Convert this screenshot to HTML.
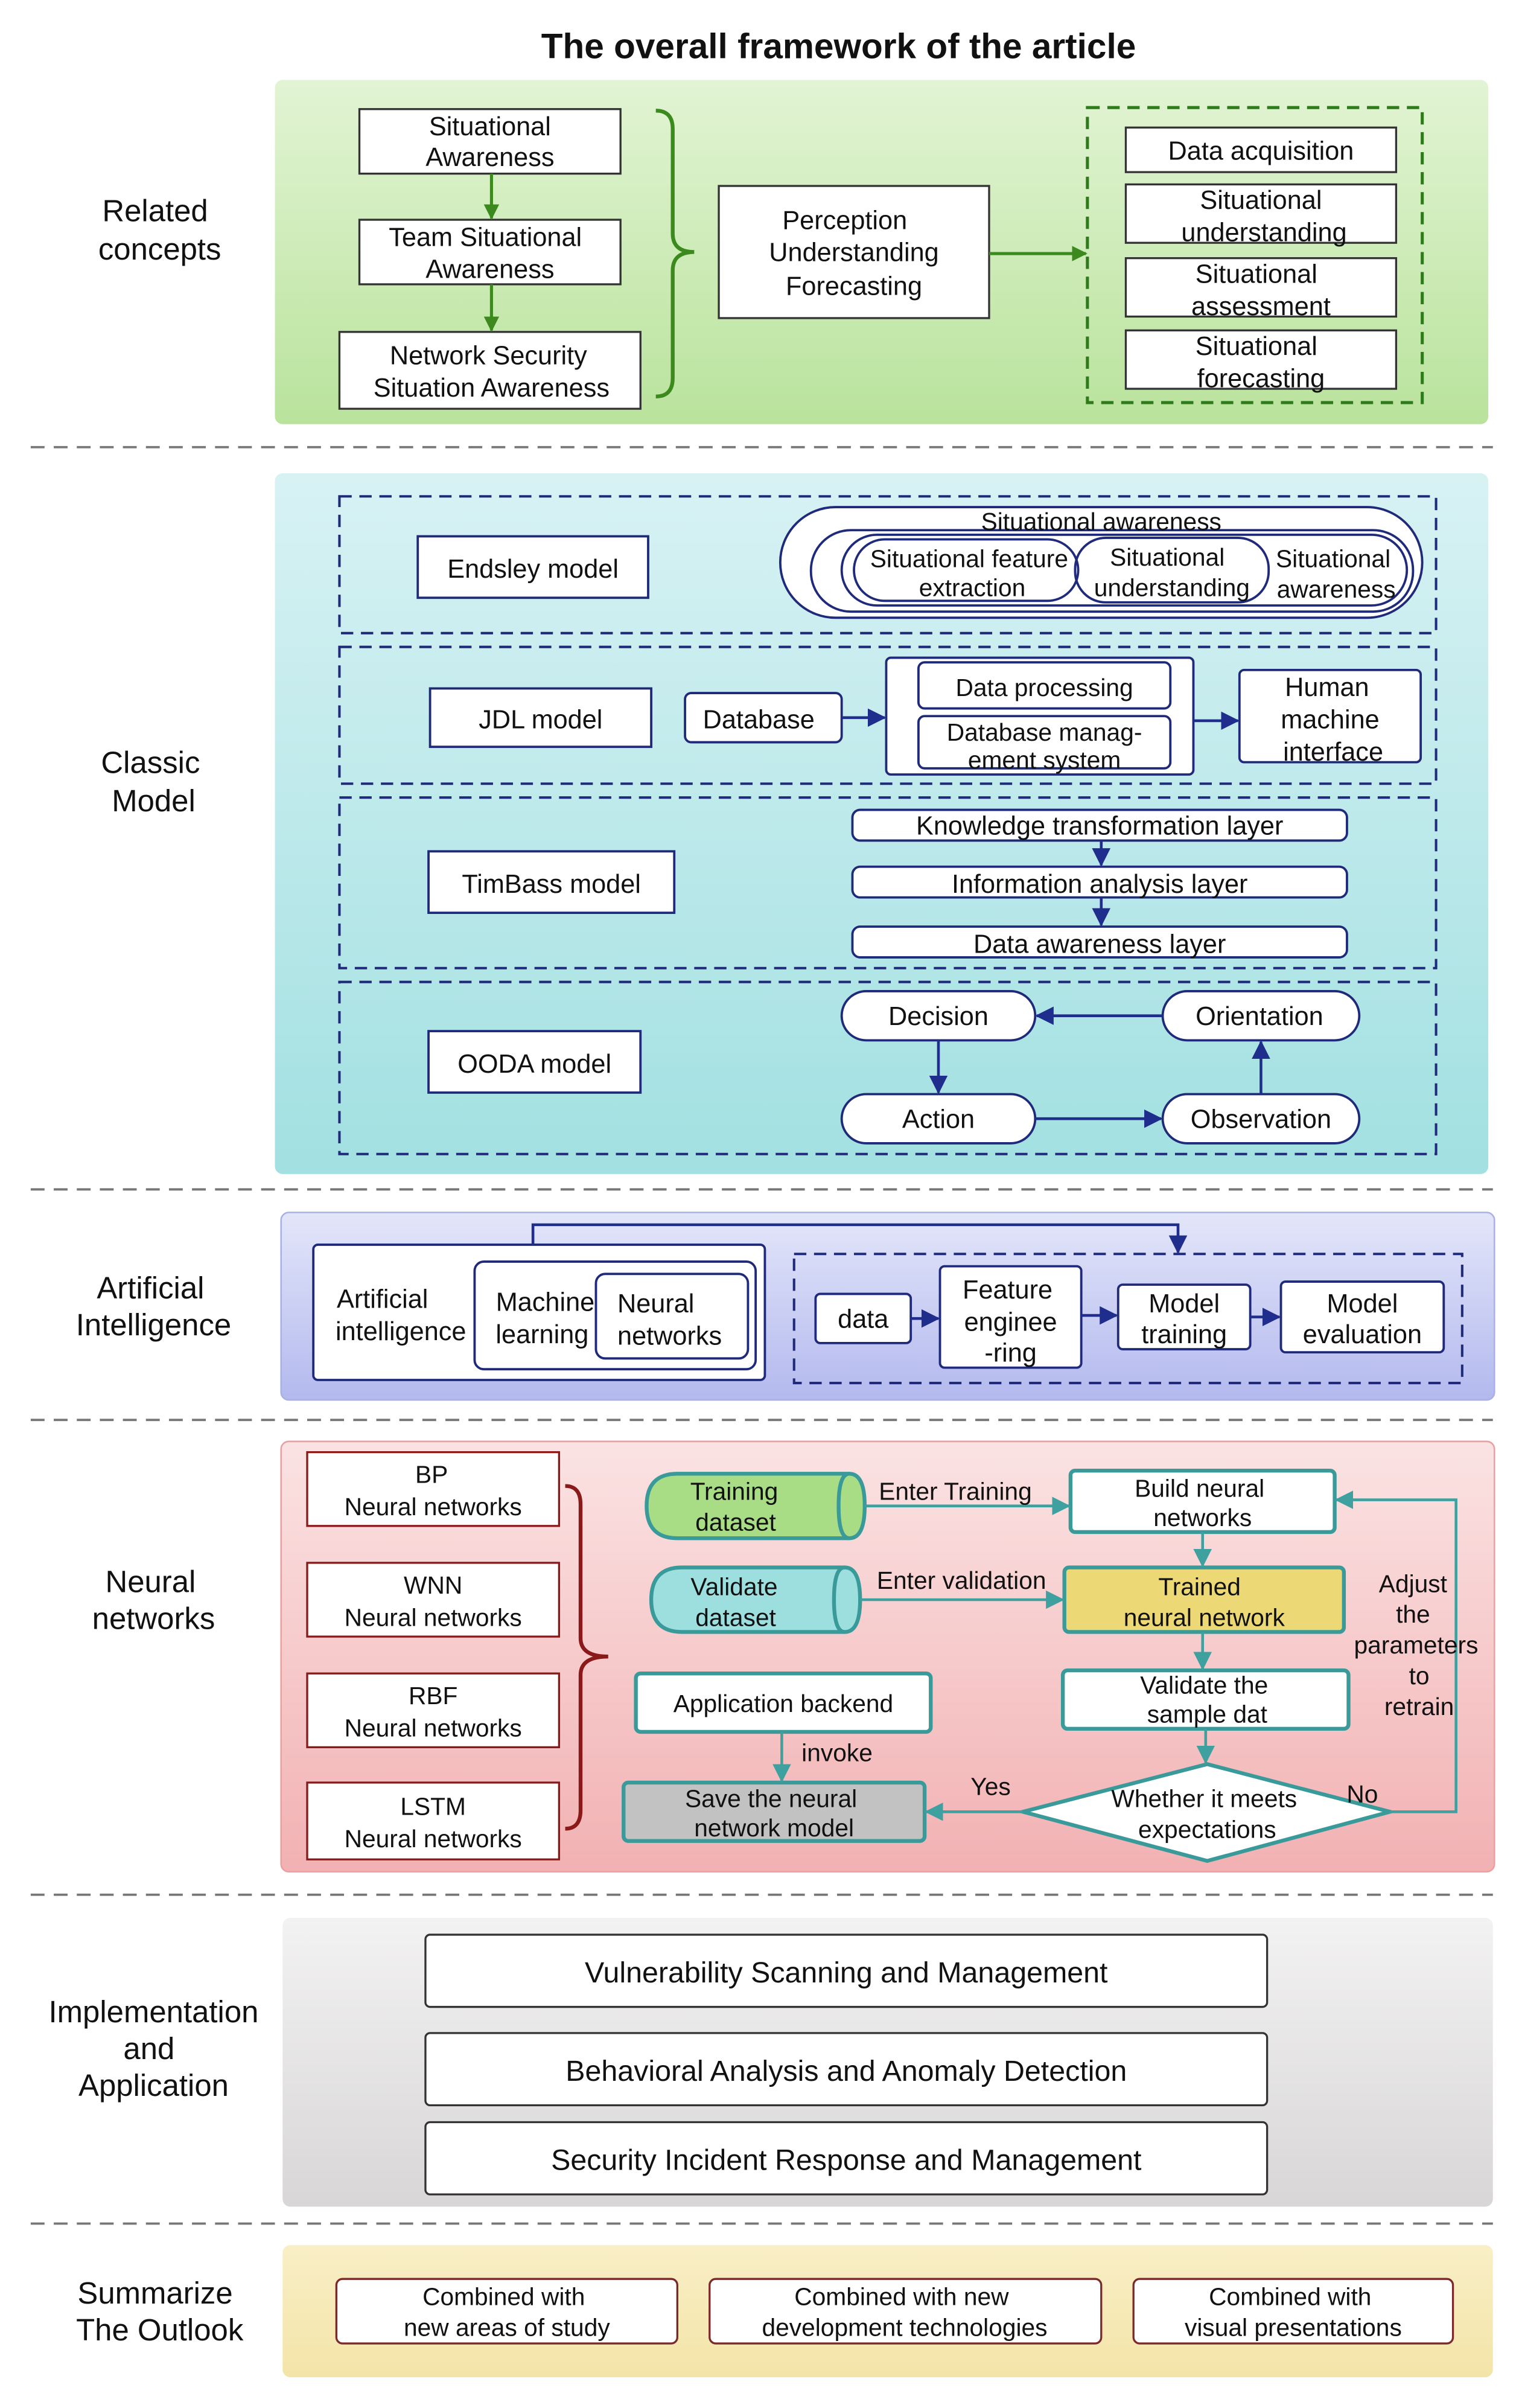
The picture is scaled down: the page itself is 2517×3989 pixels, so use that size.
<!DOCTYPE html>
<html><head><meta charset="utf-8"><style>
html,body{margin:0;padding:0;background:#fff}
svg{display:block}
text{font-family:"Liberation Sans",sans-serif;fill:#111}
</style></head><body>
<svg width="2517" height="3989" viewBox="0 0 989 1567" preserveAspectRatio="none" xmlns="http://www.w3.org/2000/svg">
<defs>
<linearGradient id="gG" x1="0" y1="0" x2="0" y2="1"><stop offset="0" stop-color="#e2f4d4"/><stop offset="1" stop-color="#b9e39c"/></linearGradient>
<linearGradient id="gC" x1="0" y1="0" x2="0" y2="1"><stop offset="0" stop-color="#d8f2f4"/><stop offset="1" stop-color="#a2e0e1"/></linearGradient>
<linearGradient id="gP" x1="0" y1="0" x2="0" y2="1"><stop offset="0" stop-color="#e3e6f9"/><stop offset="1" stop-color="#b3b9ee"/></linearGradient>
<linearGradient id="gR" x1="0" y1="0" x2="0" y2="1"><stop offset="0" stop-color="#fbe3e3"/><stop offset="1" stop-color="#f2b1b3"/></linearGradient>
<linearGradient id="gS" x1="0" y1="0" x2="0" y2="1"><stop offset="0" stop-color="#f3f2f2"/><stop offset="1" stop-color="#d8d6d6"/></linearGradient>
<linearGradient id="gY" x1="0" y1="0" x2="0" y2="1"><stop offset="0" stop-color="#f9efc6"/><stop offset="1" stop-color="#f3e4a8"/></linearGradient>
<marker id="aG" markerWidth="10" markerHeight="10" refX="9" refY="5" orient="auto" markerUnits="userSpaceOnUse"><path d="M0,0 L10,5 L0,10z" fill="#3c8a1e"/></marker>
<marker id="aB" markerWidth="12" markerHeight="12" refX="11" refY="6" orient="auto" markerUnits="userSpaceOnUse"><path d="M0,0 L12,6 L0,12z" fill="#1f2d8c"/></marker>
<marker id="aT" markerWidth="12" markerHeight="12" refX="11" refY="6" orient="auto" markerUnits="userSpaceOnUse"><path d="M0,0 L12,6 L0,12z" fill="#3fa0a0"/></marker>
</defs>

<text x="546" y="38" font-size="23" font-weight="bold" text-anchor="middle">The overall framework of the article</text>

<g stroke="#777" stroke-width="1.5" stroke-dasharray="9,6">
<line x1="20" y1="291" x2="972" y2="291"/><line x1="20" y1="774" x2="972" y2="774"/>
<line x1="20" y1="924" x2="972" y2="924"/><line x1="20" y1="1233" x2="972" y2="1233"/>
<line x1="20" y1="1447" x2="972" y2="1447"/>
</g>

<g font-size="20" text-anchor="middle">
<text x="101" y="144">Related</text><text x="104" y="169">concepts</text>
<text x="98" y="503">Classic</text><text x="100" y="528">Model</text>
<text x="98" y="845">Artificial</text><text x="100" y="869">Intelligence</text>
<text x="98" y="1036">Neural</text><text x="100" y="1060">networks</text>
<text x="100" y="1316">Implementation</text><text x="97" y="1340">and</text><text x="100" y="1364">Application</text>
<text x="101" y="1499">Summarize</text><text x="104" y="1523">The Outlook</text>
</g>

<rect x="179" y="52" width="790" height="224" rx="5" fill="url(#gG)"/>
<g fill="#fff" stroke="#333" stroke-width="1.3">
<rect x="234" y="71" width="170" height="42"/><rect x="234" y="143" width="170" height="42"/>
<rect x="221" y="216" width="196" height="50"/><rect x="468" y="121" width="176" height="86"/>
<rect x="733" y="83" width="176" height="29"/><rect x="733" y="120" width="176" height="38"/>
<rect x="733" y="168" width="176" height="38"/><rect x="733" y="215" width="176" height="38"/>
</g>
<rect x="708" y="70" width="218" height="192" fill="none" stroke="#2f7a1a" stroke-width="2" stroke-dasharray="8,5"/>
<g stroke="#3c8a1e" stroke-width="2" fill="none">
<line x1="320" y1="113" x2="320" y2="142" marker-end="url(#aG)"/>
<line x1="320" y1="185" x2="320" y2="215" marker-end="url(#aG)"/>
<line x1="644" y1="165" x2="707" y2="165" marker-end="url(#aG)"/>
<path d="M427,72 Q438,72 438,84 L438,152 Q438,164 452,164 Q438,164 438,176 L438,246 Q438,258 427,258" stroke-width="2.5"/>
</g>
<g font-size="17" text-anchor="middle">
<text x="319" y="88">Situational</text><text x="319" y="108">Awareness</text>
<text x="316" y="160">Team Situational</text><text x="319" y="181">Awareness</text>
<text x="318" y="237">Network Security</text><text x="320" y="258">Situation Awareness</text>
<text x="550" y="149">Perception</text><text x="556" y="170">Understanding</text><text x="556" y="192">Forecasting</text>
<text x="821" y="104">Data acquisition</text>
<text x="821" y="136">Situational</text><text x="823" y="157">understanding</text>
<text x="818" y="184">Situational</text><text x="821" y="205">assessment</text>
<text x="818" y="231">Situational</text><text x="821" y="252">forecasting</text>
</g>

<rect x="179" y="308" width="790" height="456" rx="5" fill="url(#gC)"/>
<g fill="none" stroke="#1f2a7a" stroke-width="1.6" stroke-dasharray="8,5">
<rect x="221" y="323" width="714" height="89"/><rect x="221" y="421" width="714" height="89"/>
<rect x="221" y="519" width="714" height="111"/><rect x="221" y="639" width="714" height="112"/>
</g>
<g fill="#fff" stroke="#1f2a7a" stroke-width="1.5">
<rect x="272" y="349" width="150" height="40"/>
<rect x="280" y="448" width="144" height="38"/><rect x="446" y="451" width="102" height="32" rx="4"/>
<rect x="577" y="428" width="200" height="76" rx="3"/>
<rect x="598" y="431" width="164" height="30" rx="4"/><rect x="598" y="466" width="164" height="34" rx="4"/>
<rect x="807" y="436" width="118" height="60" rx="3"/>
<rect x="279" y="554" width="160" height="40"/>
<rect x="555" y="527" width="322" height="20" rx="5"/><rect x="555" y="564" width="322" height="20" rx="5"/><rect x="555" y="603" width="322" height="20" rx="5"/>
<rect x="279" y="671" width="138" height="40"/>
<rect x="548" y="645" width="126" height="32" rx="16"/><rect x="757" y="645" width="128" height="32" rx="16"/>
<rect x="548" y="712" width="126" height="32" rx="16"/><rect x="757" y="712" width="128" height="32" rx="16"/>
<rect x="508" y="330" width="418" height="72" rx="36"/>
<rect x="528" y="345" width="392" height="53" rx="26"/>
<rect x="548" y="348" width="368" height="46" rx="23"/>
<rect x="556" y="351" width="146" height="40" rx="20"/>
<rect x="700" y="350" width="126" height="42" rx="20" fill="none"/>
</g>
<g stroke="#1f2d8c" stroke-width="1.8" fill="none">
<line x1="548" y1="467" x2="576" y2="467" marker-end="url(#aB)"/>
<line x1="777" y1="469" x2="806" y2="469" marker-end="url(#aB)"/>
<line x1="717" y1="547" x2="717" y2="563" marker-end="url(#aB)"/>
<line x1="717" y1="584" x2="717" y2="602" marker-end="url(#aB)"/>
<line x1="757" y1="661" x2="675" y2="661" marker-end="url(#aB)"/>
<line x1="611" y1="677" x2="611" y2="711" marker-end="url(#aB)"/>
<line x1="674" y1="728" x2="756" y2="728" marker-end="url(#aB)"/>
<line x1="821" y1="712" x2="821" y2="678" marker-end="url(#aB)"/>
</g>
<g font-size="17" text-anchor="middle">
<text x="347" y="376">Endsley model</text>
<text x="717" y="345" font-size="16">Situational awareness</text>
<text x="631" y="369" font-size="16">Situational feature</text><text x="633" y="388" font-size="16">extraction</text>
<text x="760" y="368" font-size="16">Situational</text><text x="763" y="388" font-size="16">understanding</text>
<text x="868" y="369" font-size="16">Situational</text><text x="870" y="389" font-size="16">awareness</text>
<text x="352" y="474">JDL model</text><text x="494" y="474">Database</text>
<text x="680" y="453" font-size="16">Data processing</text>
<text x="680" y="482" font-size="16">Database manag-</text><text x="680" y="500" font-size="16">ement system</text>
<text x="864" y="453">Human</text><text x="866" y="474">machine</text><text x="868" y="495">interface</text>
<text x="359" y="581">TimBass model</text>
<text x="716" y="543">Knowledge transformation layer</text>
<text x="716" y="581">Information analysis layer</text>
<text x="716" y="620">Data awareness layer</text>
<text x="348" y="698">OODA model</text>
<text x="611" y="667">Decision</text><text x="820" y="667">Orientation</text>
<text x="611" y="734">Action</text><text x="821" y="734">Observation</text>
</g>

<rect x="183" y="789" width="790" height="122" rx="5" fill="url(#gP)" stroke="#a9b0e6"/>
<g fill="#fff" stroke="#1f2a7a" stroke-width="1.5">
<rect x="204" y="810" width="294" height="88" rx="3"/>
<rect x="309" y="821" width="183" height="70" rx="6"/>
<rect x="388" y="829" width="99" height="55" rx="6"/>
<rect x="531" y="842" width="62" height="32" rx="3"/>
<rect x="612" y="824" width="92" height="66" rx="3"/>
<rect x="728" y="836" width="86" height="42" rx="3"/>
<rect x="834" y="834" width="106" height="46" rx="3"/>
</g>
<rect x="517" y="816" width="435" height="84" fill="none" stroke="#1f2a7a" stroke-width="1.6" stroke-dasharray="8,5"/>
<g stroke="#1f2d8c" stroke-width="1.8" fill="none">
<path d="M347,810 L347,797 L767,797 L767,815" marker-end="url(#aB)"/>
<line x1="593" y1="858" x2="611" y2="858" marker-end="url(#aB)"/>
<line x1="704" y1="856" x2="727" y2="856" marker-end="url(#aB)"/>
<line x1="814" y1="857" x2="833" y2="857" marker-end="url(#aB)"/>
</g>
<g font-size="17" text-anchor="middle">
<text x="249" y="851">Artificial</text><text x="261" y="872">intelligence</text>
<text x="355" y="853">Machine</text><text x="353" y="874">learning</text>
<text x="427" y="854">Neural</text><text x="436" y="875">networks</text>
<text x="562" y="864">data</text>
<text x="656" y="845">Feature</text><text x="658" y="866">enginee</text><text x="658" y="886">-ring</text>
<text x="771" y="854">Model</text><text x="771" y="874">training</text>
<text x="887" y="854">Model</text><text x="887" y="874">evaluation</text>
</g>

<rect x="183" y="938" width="790" height="280" rx="5" fill="url(#gR)" stroke="#ea9fa0"/>
<g fill="#fff" stroke="#8a1a1a" stroke-width="1.3">
<rect x="200" y="945" width="164" height="48"/><rect x="200" y="1017" width="164" height="48"/>
<rect x="200" y="1089" width="164" height="48"/><rect x="200" y="1160" width="164" height="50"/>
</g>
<path d="M368,967 Q378,967 378,979 L378,1066 Q378,1078 396,1078 Q378,1078 378,1090 L378,1178 Q378,1190 368,1190" fill="none" stroke="#8a1a1a" stroke-width="2.5"/>
<g font-size="16" text-anchor="middle">
<text x="281" y="965">BP</text><text x="282" y="986">Neural networks</text>
<text x="282" y="1037">WNN</text><text x="282" y="1058">Neural networks</text>
<text x="282" y="1109">RBF</text><text x="282" y="1130">Neural networks</text>
<text x="282" y="1181">LSTM</text><text x="282" y="1202">Neural networks</text>
</g>
<g stroke="#3a9a9a" stroke-width="2.5">
<path d="M441,959 L553,959 Q563,959 563,980 Q563,1001 553,1001 L441,1001 Q421,1001 421,980 Q421,959 441,959z" fill="#a9dd85"/>
<path d="M553,959 Q546,959 546,980 Q546,1001 553,1001" fill="none"/>
<path d="M444,1020 L550,1020 Q560,1020 560,1041 Q560,1062 550,1062 L444,1062 Q424,1062 424,1041 Q424,1020 444,1020z" fill="#9ddfdf"/>
<path d="M550,1020 Q543,1020 543,1041 Q543,1062 550,1062" fill="none"/>
<rect x="697" y="957" width="172" height="40" rx="3" fill="#fff"/>
<rect x="693" y="1020" width="182" height="42" rx="3" fill="#ecd874"/>
<rect x="692" y="1087" width="186" height="38" rx="3" fill="#fff"/>
<rect x="414" y="1089" width="192" height="38" rx="3" fill="#fff"/>
<rect x="406" y="1160" width="196" height="38" rx="3" fill="#c2c2c2"/>
<path d="M786,1148 L905,1179 L786,1211 L666,1179z" fill="#fff"/>
</g>
<g stroke="#3fa0a0" stroke-width="1.8" fill="none">
<line x1="563" y1="980" x2="696" y2="980" marker-end="url(#aT)"/>
<line x1="560" y1="1041" x2="692" y2="1041" marker-end="url(#aT)"/>
<line x1="783" y1="997" x2="783" y2="1019" marker-end="url(#aT)"/>
<line x1="783" y1="1062" x2="783" y2="1086" marker-end="url(#aT)"/>
<line x1="785" y1="1125" x2="785" y2="1147" marker-end="url(#aT)"/>
<line x1="509" y1="1127" x2="509" y2="1159" marker-end="url(#aT)"/>
<line x1="666" y1="1179" x2="603" y2="1179" marker-end="url(#aT)"/>
<path d="M905,1179 L948,1179 L948,976 L870,976" marker-end="url(#aT)"/>
</g>
<g font-size="16" text-anchor="middle">
<text x="478" y="976">Training</text><text x="479" y="996">dataset</text>
<text x="478" y="1038">Validate</text><text x="479" y="1058">dataset</text>
<text x="622" y="976">Enter Training</text><text x="626" y="1034">Enter validation</text>
<text x="781" y="974">Build neural</text><text x="783" y="993">networks</text>
<text x="781" y="1038">Trained</text><text x="784" y="1058">neural network</text>
<text x="784" y="1102">Validate the</text><text x="786" y="1121">sample dat</text>
<text x="510" y="1114">Application backend</text>
<text x="545" y="1146">invoke</text>
<text x="502" y="1176">Save the neural</text><text x="504" y="1195">network model</text>
<text x="645" y="1168">Yes</text><text x="887" y="1173">No</text>
<text x="784" y="1176">Whether it meets</text><text x="786" y="1196">expectations</text>
<text x="920" y="1036">Adjust</text><text x="920" y="1056">the</text><text x="922" y="1076">parameters</text>
<text x="924" y="1096">to</text><text x="924" y="1116">retrain</text>
</g>

<rect x="184" y="1248" width="788" height="188" rx="5" fill="url(#gS)"/>
<g fill="#fff" stroke="#333" stroke-width="1.3">
<rect x="277" y="1259" width="548" height="47" rx="3"/><rect x="277" y="1323" width="548" height="47" rx="3"/>
<rect x="277" y="1381" width="548" height="47" rx="3"/>
</g>
<g font-size="19" text-anchor="middle">
<text x="551" y="1290">Vulnerability Scanning and Management</text>
<text x="551" y="1354">Behavioral Analysis and Anomaly Detection</text>
<text x="551" y="1412">Security Incident Response and Management</text>
</g>

<rect x="184" y="1461" width="788" height="86" rx="5" fill="url(#gY)"/>
<g fill="#fff" stroke="#7a2a2a" stroke-width="1.3">
<rect x="219" y="1483" width="222" height="42" rx="4"/><rect x="462" y="1483" width="255" height="42" rx="4"/>
<rect x="738" y="1483" width="208" height="42" rx="4"/>
</g>
<g font-size="16" text-anchor="middle">
<text x="328" y="1500">Combined with</text><text x="330" y="1520">new areas of study</text>
<text x="587" y="1500">Combined with new</text><text x="589" y="1520">development  technologies</text>
<text x="840" y="1500">Combined with</text><text x="842" y="1520">visual presentations</text>
</g>
</svg>
</body></html>
